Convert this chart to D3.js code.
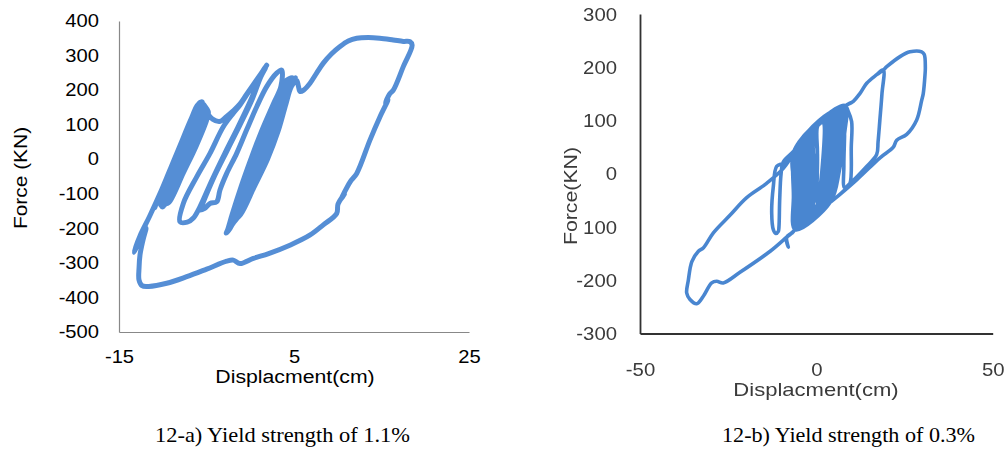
<!DOCTYPE html>
<html>
<head>
<meta charset="utf-8">
<script src="https://cdn.jsdelivr.net/npm/d3@7"></script>
<style>
  html, body { margin: 0; padding: 0; background: #fff; }
  svg { display: block; }
</style>
</head>
<body>
<svg id="fig" width="1005" height="452"></svg>
<script>
// ---------- 12-a) yield strength 1.1% : displacement (cm) vs force (kN) ----------
const forceTicksA = [-500, -400, -300, -200, -100, 0, 100, 200, 300, 400];
const dispTicksA = [-15, 5, 25];

// early cycles, left band
const innerCyclesA = [
  [-10.9,-140],[-10.63,-120],[-9.32,-40],[-8.02,40],[-6.7,120],[-5.9,160],
  [-5.3,150],[-5.5,120],[-6.77,40],[-8.21,-40],[-9.64,-120],[-10.0,-138],
  [-10.39,-120],[-9.05,-40],[-7.71,40],[-6.4,120],[-5.7,165],
  [-5.0,145],[-5.2,120],[-6.46,40],[-7.93,-40],[-9.39,-120],[-9.8,-132],
  [-10.14,-120],[-8.77,-40],[-7.4,40],[-6.1,120],[-5.5,158],
  [-4.8,138],[-4.9,120],[-6.15,40],[-7.65,-40],[-9.14,-120],[-9.5,-128],
  [-9.6,-110],[-8.49,-40],[-7.09,40],[-5.8,120],[-5.3,152],
  [-4.95,135],[-4.3,116],[-3.5,109],[-2.7,124]
];

// open loops in the middle
const middleLoopsA = [
  [-1.95,140],[-1.17,160],[-0.41,188],[0.74,230],[1.88,272],
  [1.5,258],[0.9,222],[-0.03,166],[-1.4,93],[-2.89,18],[-4.37,-60],[-5.74,-137],[-6.5,-170],[-7.2,-182],[-8.03,-181],
  [-7.65,-128],[-6.12,-51],[-4.6,17],[-3.08,94],[-1.94,133],[-1.17,157],[-0.41,186],[0.74,229],[1.75,265],
  [1.2,238],[0.2,172],[-1.2,98],[-2.7,22],[-4.2,-55],[-5.5,-132],[-5.74,-147],
  [-5.2,-142],[-4.6,-128],[-3.83,-123],
  [-3.46,-89],[-2.69,-41],[-1.55,17],[-0.41,85],[0.74,152],[1.88,210],[3.02,249],[3.59,258]
];

// tight repeated cycles, right band
const denseCyclesA = [
  [3.5,210],[2.64,160],[1.27,80],[0.07,0],[-1.05,-80],[-2.07,-160],[-2.6,-205],[-2.75,-214],
  [-2.3,-200],[-1.49,-160],[-0.15,-80],[1.21,0],[2.41,80],[3.5,160],[4.22,210],[4.8,236],
  [4.0,225],[3.68,210],[2.86,160],[1.56,80],[0.36,0],[-0.83,-80],[-1.92,-160],[-2.4,-200],
  [-1.34,-160],[0.08,-80],[1.5,0],[2.7,80],[3.72,160],[4.4,210],[5.0,232],
  [4.2,222],[3.86,210],[3.07,160],[1.84,80],[0.64,0],[-0.6,-80],[-1.78,-160],[-2.2,-190],
  [-1.2,-160],[0.3,-80],[1.78,0],[2.98,80],[3.94,160],[4.58,210],[5.15,236],
  [4.4,220],[4.04,210],[3.29,160],[2.13,80],[0.93,0],[-0.38,-80],[-1.63,-160],[-1.9,-178],
  [-1.1,-160],[0.45,-80],[1.97,0],[3.17,80],[4.08,160],[4.7,210],[5.3,228]
];

// large excursion
const envelopeA = [
  [5.5,212],[5.69,196],[6.1,200],[6.83,220],[7.6,250],[8.35,278],[9.3,305],[10.26,326],
  [11.2,342],[12.17,350],[13.5,352],[14.8,350],[16.35,345],[17.5,341],[18.26,340],[18.5,330],
  [17.49,268],[16.35,200],[15.9,188],[15.45,162],[15.75,172],[14.83,123],[13.69,56],[12.17,-41],
  [11.4,-66],[10.4,-115],[10.75,-101],[10.03,-130],[9.88,-157],[8.35,-190],[6.8,-220],[4.6,-248],
  [2.1,-273],[0.35,-287],[-1.17,-302],[-1.94,-292],[-2.69,-295],[-4.98,-318],[-7.26,-340],
  [-9.55,-359],[-11.6,-368],[-12.37,-366],[-12.71,-350],[-12.71,-315],[-12.6,-277],[-12.26,-234],
  [-11.91,-199],[-13.29,-269],[-12.6,-222],[-11.5,-165],[-10.15,-90],[-8.85,-12],[-7.35,65],
  [-5.85,150],[-5.5,166]
];

// ---------- 12-b) yield strength 0.3% ----------
const forceTicksB = [-300, -200, -100, 0, 100, 200, 300];
const forceLabelsB = ["-300", "-200", "100", "0", "100", "200", "300"];
const dispTicksB = [-50, 0, 50];

// small cycles filling the centre
const denseCyclesB = [
  [0.0,0],[0.3,40],[0.4,90],[1.8,97],[1.5,0],[0.2,-55],[0.3,40],
  [-0.4,85],[2.6,102],[2.5,10],[1.2,-50],[-0.4,-74],[-0.7,30],
  [-0.8,83],[2.2,100],[2.0,5],[0.8,-55],[-0.8,-76],[-1.1,25],
  [-1.2,80],[3.4,107],[3.3,15],[2.0,-45],[-1.2,-78],[-1.5,20],
  [-1.6,78],[3.0,105],[2.9,12],[1.6,-48],[-1.6,-80],[-1.9,15],
  [-2.0,75],[4.2,111],[4.1,25],[2.8,-35],[0.3,-72],[-2.0,-82],[-2.3,10],
  [-2.45,72],[3.8,109],[3.7,28],[2.4,-38],[-2.4,-84],[-2.7,5],
  [-2.9,70],[5.0,115],[4.9,35],[3.5,-30],[1.0,-68],[-2.8,-87],[-3.2,0],
  [-3.3,67],[4.6,113],[4.5,38],[3.1,-28],[-3.2,-89],[-3.6,-5],
  [-3.7,65],[5.8,118],[5.7,45],[4.3,-20],[1.8,-64],[-3.6,-91],[-4.0,-10],
  [-4.1,62],[5.4,117],[5.3,48],[3.9,-18],[-4.0,-93],[-4.4,-15],
  [-4.5,58],[6.6,120],[6.5,55],[5.0,-10],[2.5,-61],[-4.4,-95],[-4.8,-20],
  [-4.9,55],[6.2,119],[6.1,58],[4.6,-8],[-4.8,-97],[-5.2,-25],
  [-5.3,53],[7.4,124],[7.2,65],[5.8,0],[3.2,-57],[-5.2,-100],[-5.6,-30],
  [-5.75,50],[7.0,122],[6.8,68],[5.4,2],[-5.6,-102],[-6.0,-35],
  [-6.2,45],[8.2,128],[8.0,75],[6.5,5],[4.0,-53],[-6.0,-105],[-6.5,-40],[-6.5,40]
];

// narrow loop on the negative side
const sideLoopB = [
  [-7.5,30],[-9.4,20],[-11.24,14],[-12.2,-24],[-12.66,-74],[-12.2,-105],[-11.5,-112],
  [-10.78,-108],[-10.6,-100],[-10.4,-50],[-10.0,0],[-9.4,22],[-6.5,42]
];

// loops growing to the positive side
const growthLoopsB = [
  [-4.64,58],[0.1,89],[4.81,114],[8.1,128],[9.0,118],[10.0,98],[9.9,50],[9.55,-18],[8.5,-27],
  [4.8,-49],[-2.7,-86],[-7.0,-111],[-8.41,-119],[-7.95,-138],[-8.5,-121],[-7.0,-112],[-6.3,-106],
  [-6.5,-40],[-6.4,40],
  [-4.64,58],[0.1,89],[4.81,114],[7.64,126],[10.48,136],[12.38,151],[14.28,170],[17.11,186],
  [18.98,195],[18.6,150],[18.0,100],[17.5,60],[17.1,36],[14.0,12],[9.55,-18],[8.0,-26],
  [7.8,14],[8.0,70],[8.12,126]
];

// largest excursion
const envelopeB = [
  [10.48,136],[12.38,151],[14.28,170],[17.11,186],[18.98,195],[19.95,201],[23.72,220],[26.55,229],
  [29.87,229],[30.6,224],[30.9,200],[30.8,185],[30.3,150],[29.87,138],[28.45,101],[25.62,74],
  [22.78,63],[21.82,50],[18.05,30],[11.5,-11],[4.8,-49],[-2.7,-86],[-7.0,-111],[-8.41,-119],
  [-13.0,-145],[-21.65,-185],[-26.38,-205],[-28.25,-202],[-29.67,-205],[-32.05,-230],[-33.92,-244],
  [-35.82,-236],[-36.76,-224],[-36.3,-200],[-35.3,-165],[-33.5,-146],[-32.0,-139],[-29.2,-111],
  [-24.5,-78],[-19.75,-45],[-14.5,-20],[-9.37,10],[-6.54,39],[-6.05,47],[-4.64,58],[0.1,89]
];

const captionA = "12-a) Yield strength of 1.1%";
const captionB = "12-b) Yield strength of 0.3%";

// ---------- drawing ----------
const svg = d3.select("#fig");
const SANS = "'Liberation Sans', Arial, sans-serif";
const SERIF = "'Liberation Serif', 'Times New Roman', serif";
const plain = d => String(d);

// widen a glyph run to a factor of its natural length
function stretch(sel, k) {
  sel.each(function () {
    const w = this.getComputedTextLength();
    d3.select(this).attr("textLength", w * k).attr("lengthAdjust", "spacingAndGlyphs");
  });
}

// ---- panel a ----
const xA = d3.scaleLinear().domain([-15, 25]).range([119, 469]);
const yA = d3.scaleLinear().domain([-500, 400]).range([332, 21]);
const gA = svg.append("g");

const axYA = gA.append("g").attr("transform", `translate(${xA(-15)},0)`)
  .call(d3.axisLeft(yA).tickValues(forceTicksA).tickFormat(plain).tickSize(0).tickSizeOuter(0).tickPadding(20));
const axXA = gA.append("g").attr("transform", `translate(0,${yA(-500)})`)
  .call(d3.axisBottom(xA).tickValues(dispTicksA).tickFormat(plain).tickSize(0).tickSizeOuter(0).tickPadding(18));
[axYA, axXA].forEach(ax => {
  ax.select(".domain").attr("stroke", "#888").attr("stroke-width", 1.2);
  ax.selectAll("text").attr("font-family", SANS).attr("font-size", 18).attr("fill", "#000");
});
stretch(axYA.selectAll("text"), 1.12);
stretch(axXA.selectAll("text"), 1.12);

const lineA = d3.line().x(d => xA(d[0])).y(d => yA(d[1])).curve(d3.curveCatmullRom.alpha(0.5));
const pathA = innerCyclesA.concat(middleLoopsA, denseCyclesA, envelopeA);
gA.append("path").datum(pathA).attr("d", lineA)
  .attr("fill", "none").attr("stroke", "#558ed5").attr("stroke-width", 5)
  .attr("stroke-linejoin", "round").attr("stroke-linecap", "round");

const tA1 = gA.append("text").attr("x", 295).attr("y", 383).attr("text-anchor", "middle")
  .attr("font-family", SANS).attr("font-size", 18).text("Displacment(cm)");
stretch(tA1, 1.18);
const tA2 = gA.append("text").attr("transform", "translate(27,178) rotate(-90)").attr("text-anchor", "middle")
  .attr("font-family", SANS).attr("font-size", 19).text("Force (KN)");
stretch(tA2, 1.1);

// ---- panel b ----
const defs = svg.append("defs");
defs.append("filter").attr("id", "soft").attr("x", "-5%").attr("y", "-5%").attr("width", "110%").attr("height", "110%")
  .append("feGaussianBlur").attr("stdDeviation", 0.6);

const xB = d3.scaleLinear().domain([-50, 50]).range([640, 992.7]);
const yB = d3.scaleLinear().domain([-300, 300]).range([333.5, 14]);
const gB = svg.append("g").attr("filter", "url(#soft)");

const axYB = gB.append("g").attr("transform", `translate(${xB(-50)},0)`)
  .call(d3.axisLeft(yB).tickValues(forceTicksB).tickFormat((d, i) => forceLabelsB[i])
    .tickSize(0).tickSizeOuter(0).tickPadding(23));
const axXB = gB.append("g").attr("transform", `translate(0,${yB(-300)})`)
  .call(d3.axisBottom(xB).tickValues(dispTicksB).tickFormat(plain).tickSize(0).tickSizeOuter(0).tickPadding(29));
[axYB, axXB].forEach(ax => {
  ax.select(".domain").attr("stroke", "#333").attr("stroke-width", 1.8);
  ax.selectAll("text").attr("font-family", SANS).attr("font-size", 19).attr("fill", "#3a3a3a");
});
stretch(axYB.selectAll("text"), 1.07);
stretch(axXB.selectAll("text"), 1.07);

const lineB = d3.line().x(d => xB(d[0])).y(d => yB(d[1])).curve(d3.curveCatmullRom.alpha(0.5));
const pathB = denseCyclesB.concat(sideLoopB, growthLoopsB, envelopeB);
gB.append("path").datum(pathB).attr("d", lineB)
  .attr("fill", "none").attr("stroke", "#4a86d0").attr("stroke-width", 3.6)
  .attr("stroke-linejoin", "round").attr("stroke-linecap", "round");

const tB1 = gB.append("text").attr("x", 816).attr("y", 396).attr("text-anchor", "middle")
  .attr("font-family", SANS).attr("font-size", 19).attr("fill", "#3a3a3a").text("Displacment(cm)");
stretch(tB1, 1.16);
const tB2 = gB.append("text").attr("transform", "translate(577,196) rotate(-90)").attr("text-anchor", "middle")
  .attr("font-family", SANS).attr("font-size", 19).attr("fill", "#3a3a3a").text("Force(KN)");
stretch(tB2, 1.12);

// ---- captions ----
svg.append("text").attr("x", 155).attr("y", 442)
  .attr("font-family", SERIF).attr("font-size", 21)
  .attr("textLength", 255).attr("lengthAdjust", "spacingAndGlyphs").text(captionA);
svg.append("text").attr("x", 722).attr("y", 442)
  .attr("font-family", SERIF).attr("font-size", 21)
  .attr("textLength", 253).attr("lengthAdjust", "spacingAndGlyphs").text(captionB);
</script>
</body>
</html>
